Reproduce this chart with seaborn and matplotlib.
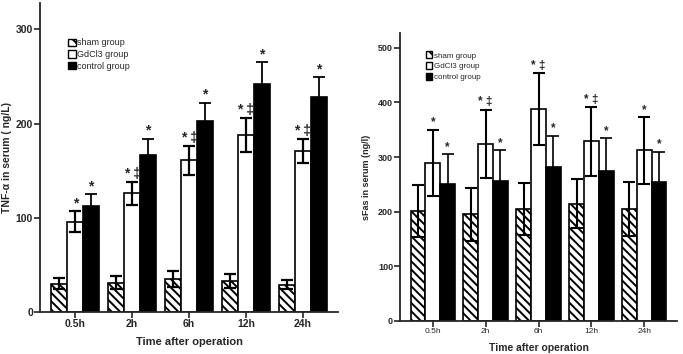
import numpy as np
import pandas as pd
import matplotlib
matplotlib.use("Agg")
import matplotlib.pyplot as plt
from matplotlib.patches import Patch
import seaborn as sns

# data
times = ["0.5h", "2h", "6h", "12h", "24h"]
groups = ["sham group", "GdCl3 group", "control group"]

tnf_sham = [30, 31, 35, 33, 29]
tnf_sham_err = [6, 7, 8, 7, 5]
tnf_gdcl3 = [96, 126, 161, 188, 171]
tnf_gdcl3_err = [11, 12.5, 15.5, 18, 13]
tnf_control = [112, 167, 203, 242, 228]
tnf_control_err = [13, 17, 19, 23, 21]

sfas_sham = [201, 195, 205, 215, 205]
sfas_sham_err = [48, 48, 47, 44, 49]
sfas_gdcl3 = [289, 324, 388, 329, 312]
sfas_gdcl3_err = [61, 63, 66, 63, 61]
sfas_control = [250, 256, 282, 275, 255]
sfas_control_err = [55, 57, 57, 59, 55]

tnf_marks = [[""] * 5, ["*", "* ‡", "* ‡", "* ‡", "* ‡"], ["*"] * 5]
sfas_marks = [[""] * 5, ["*", "* ‡", "* ‡", "* ‡", "*"], ["*"] * 5]

sns.set_style("ticks")
plt.rcParams["font.family"] = ["Liberation Sans", "DejaVu Sans"]
plt.rcParams["hatch.linewidth"] = 1.4
plt.rcParams["axes.linewidth"] = 1.3


def make_df(sham, gd, ctrl):
    rows = []
    for g, vals in zip(groups, [sham, gd, ctrl]):
        for t, v in zip(times, vals):
            rows.append({"time": t, "group": g, "value": v})
    return pd.DataFrame(rows)


def draw(ax, df, errs, marks, ylim, yticks, capsize, elw, star_fs, star_off):
    sns.barplot(data=df, x="time", y="value", hue="group", order=times, hue_order=groups,
                palette=["white", "white", "black"], saturation=1, edgecolor="black",
                linewidth=1.2, width=0.84, errorbar=None, legend=False, ax=ax)
    bar_conts = list(ax.containers)
    for bar in bar_conts[0]:
        bar.set_hatch("\\\\\\\\")
    for i, cont in enumerate(bar_conts):
        xs = [b.get_x() + b.get_width() / 2 for b in cont]
        ys = [b.get_height() for b in cont]
        lw = elw if i < 2 else elw * 0.8
        ax.errorbar(xs, ys, yerr=errs[i], fmt="none", ecolor="black", elinewidth=lw,
                    capsize=capsize, capthick=lw, zorder=4)
        for x, y, e, m in zip(xs, ys, errs[i], marks[i]):
            if m:
                ax.text(x, y + e + star_off, m, ha="center", va="bottom",
                        fontsize=star_fs, fontweight="bold")
    ax.set_ylim(*ylim)
    ax.set_yticks(yticks)
    ax.set_xlim(-0.62, 4.62)
    sns.despine(ax=ax)
    ax.tick_params(direction="out", length=4, width=1.2, pad=1)


fig = plt.figure(figsize=(6.83, 3.54), dpi=100)

ax1 = fig.add_axes([40 / 683, 42 / 354, 298 / 683, 309 / 354])
draw(ax1, make_df(tnf_sham, tnf_gdcl3, tnf_control),
     [tnf_sham_err, tnf_gdcl3_err, tnf_control_err], tnf_marks,
     (0, 328), [0, 100, 200, 300], 4.5, 1.6, 10, 1)
for lab in ax1.get_yticklabels() + ax1.get_xticklabels():
    lab.set_fontweight("bold")
    lab.set_fontsize(7.5)
ax1.set_xlabel("Time after operation", fontsize=8, fontweight="bold", labelpad=6)
ax1.set_ylabel("TNF-α in serum ( ng/L)", fontsize=7.5, fontweight="bold", labelpad=3)

ax2 = fig.add_axes([400 / 683, 33 / 354, 277 / 683, 288 / 354])
draw(ax2, make_df(sfas_sham, sfas_gdcl3, sfas_control),
     [sfas_sham_err, sfas_gdcl3_err, sfas_control_err], sfas_marks,
     (0, 527), [0, 100, 200, 300, 400, 500], 4, 1.5, 8.5, 2)
for lab in ax2.get_yticklabels():
    lab.set_fontweight("bold")
    lab.set_fontsize(6.5)
for lab in ax2.get_xticklabels():
    lab.set_fontsize(6)
ax2.set_xlabel("Time after operation", fontsize=7.5, fontweight="bold", labelpad=6)
ax2.set_ylabel("sFas in serum (ng/l)", fontsize=6.5, fontweight="bold", labelpad=5)

handles = [Patch(facecolor="white", edgecolor="black", hatch="\\\\\\", linewidth=1),
           Patch(facecolor="white", edgecolor="black", linewidth=1),
           Patch(facecolor="black", edgecolor="black", linewidth=1)]
ax1.legend(handles, groups, loc="upper left", bbox_to_anchor=(0.08, 0.9), frameon=False,
           fontsize=6.5, handlelength=0.8, handleheight=0.9, handletextpad=0.2,
           labelspacing=0.3, borderpad=0)
ax2.legend(handles, groups, loc="upper left", bbox_to_anchor=(0.078, 0.95), frameon=False,
           fontsize=5.8, handlelength=0.8, handleheight=0.9, handletextpad=0.2,
           labelspacing=0.35, borderpad=0)

fig.savefig("out.png", dpi=100)
